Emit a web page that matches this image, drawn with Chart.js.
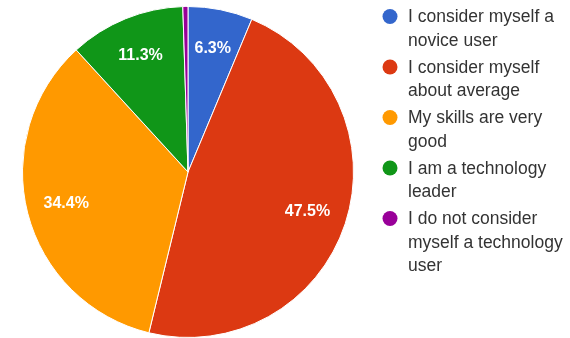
<!DOCTYPE html>
<html>
<head>
<meta charset="utf-8">
<script src="https://cdn.jsdelivr.net/npm/chart.js@4/dist/chart.umd.min.js"></script>
<style>
  html, body { margin: 0; padding: 0; background: #ffffff; overflow: hidden; }
  #wrap { width: 570px; height: 338px; position: relative; }
</style>
</head>
<body>
<div id="wrap"><canvas id="c" width="570" height="338"></canvas></div>
<script>
// Survey answers: how respondents rate their own technology skills
const categories = [
  'I consider myself a novice user',
  'I consider myself about average',
  'My skills are very good',
  'I am a technology leader',
  'I do not consider myself a technology user'
];
const shares = [6.3, 47.5, 34.4, 11.3, 0.5];
const sliceColors = ['#3366CC', '#DC3912', '#FF9900', '#109618', '#990099'];

const FONT = '"Liberation Sans", Arial, Helvetica, sans-serif';

// Percent labels inside the slices, white and bold
const sliceLabels = {
  id: 'sliceLabels',
  afterDatasetsDraw(chart) {
    const ctx = chart.ctx;
    const meta = chart.getDatasetMeta(0);
    ctx.save();
    ctx.font = 'bold 16px ' + FONT;
    ctx.fillStyle = '#ffffff';
    ctx.textAlign = 'center';
    ctx.textBaseline = 'middle';
    meta.data.forEach((arc, i) => {
      const v = shares[i];
      if (v < 5) return;
      const mid = (arc.startAngle + arc.endAngle) / 2;
      const r = arc.outerRadius * 0.76;
      ctx.fillText(v.toFixed(1) + '%', arc.x + Math.cos(mid) * r, arc.y + Math.sin(mid) * r);
    });
    ctx.restore();
  }
};

// Legend at the right with word-wrapped entries and round markers
const wrapLegend = {
  id: 'wrapLegend',
  afterDraw(chart) {
    const ctx = chart.ctx;
    const textX = 408, markerX = 390, maxW = 160, lineH = 23.5, itemGap = 3.5;
    let y = 16.5;
    ctx.save();
    ctx.font = '17.5px ' + FONT;
    ctx.textBaseline = 'middle';
    ctx.textAlign = 'left';
    categories.forEach((label, i) => {
      const words = label.split(' ');
      const lines = [];
      let cur = '';
      words.forEach(w => {
        const test = cur ? cur + ' ' + w : w;
        if (ctx.measureText(test).width > maxW && cur) { lines.push(cur); cur = w; }
        else cur = test;
      });
      if (cur) lines.push(cur);
      ctx.beginPath();
      ctx.arc(markerX, y, 7.5, 0, Math.PI * 2);
      ctx.fillStyle = sliceColors[i];
      ctx.fill();
      ctx.fillStyle = '#333333';
      lines.forEach((ln, k) => ctx.fillText(ln, textX, y + 1 + k * lineH));
      y += lines.length * lineH + itemGap;
    });
    ctx.restore();
  }
};

new Chart(document.getElementById('c'), {
  type: 'pie',
  data: {
    labels: categories,
    datasets: [{
      data: shares,
      backgroundColor: sliceColors,
      borderColor: '#ffffff',
      borderWidth: 1
    }]
  },
  options: {
    responsive: false,
    animation: false,
    layout: { padding: { left: 22, right: 216, top: 6, bottom: 0 } },
    plugins: {
      legend: { display: false },
      tooltip: { enabled: false }
    }
  },
  plugins: [sliceLabels, wrapLegend]
});
</script>
</body>
</html>
